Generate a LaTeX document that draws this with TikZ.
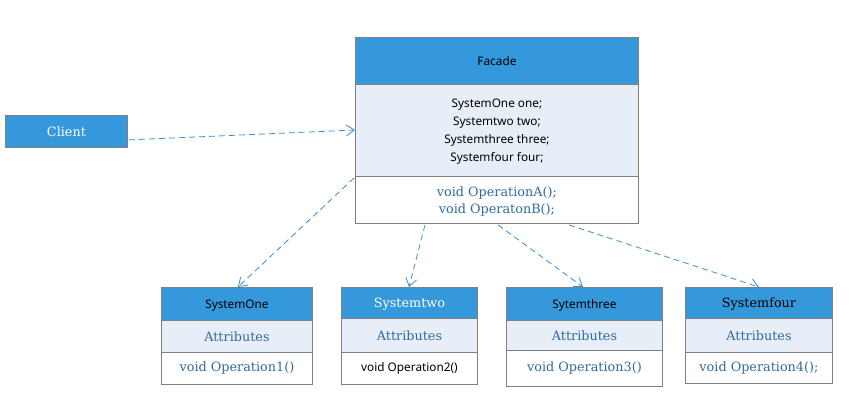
\documentclass[tikz,border=0pt]{standalone}
\usepackage{fontspec}
\setmainfont{DejaVu Serif}
\newfontfamily\sn{Noto Sans}
\usetikzlibrary{arrows.meta,calc}
\definecolor{hdrblue}{RGB}{52,152,219}
\definecolor{attrfill}{RGB}{232,238,248}
\definecolor{bordergray}{RGB}{128,128,128}
\definecolor{serblue}{RGB}{46,106,160}
\definecolor{linkblue}{RGB}{58,142,208}
\tikzset{
  box/.style={draw=bordergray, line width=0.9pt, rectangle, inner sep=0pt, anchor=north west, align=center},
  hdr/.style={box, fill=hdrblue},
  attr/.style={box, fill=attrfill},
  ops/.style={box, fill=white},
  lower/.style={text height=12pt, text depth=2pt},
  sertxt/.style={font=\fontsize{12.8}{17}\selectfont, text=serblue},
  santxt/.style={font=\sn\fontsize{11.8}{18}\selectfont, text=black},
  dep/.style={draw=linkblue, line width=0.8pt, dash pattern=on 6pt off 4pt, -{Straight Barb[length=8pt,width=11pt]}}
}
\begin{document}
\begin{tikzpicture}[x=1pt,y=-1pt]
\useasboundingbox (0,0) rectangle (854,417);
% Client
\node[hdr, minimum width=122pt, minimum height=32pt, sertxt, text=white] (client) at (5,115) {Client};
% Facade
\node[hdr, minimum width=283pt, minimum height=47pt, santxt] (fhdr) at (355,37) {Facade};
\node[attr, minimum width=283pt, minimum height=92pt, santxt, text depth=-4pt] (fattr) at (355,84) {SystemOne one;\\Systemtwo two;\\Systemthree three;\\Systemfour four;};
\node[ops, minimum width=283pt, minimum height=47pt, sertxt, text depth=-4pt] (fops) at (355,176) {void OperationA();\\void OperatonB();};
% SystemOne
\node[hdr, minimum width=151pt, minimum height=33pt, santxt, lower] (s1h) at (161,287) {SystemOne};
\node[attr, minimum width=151pt, minimum height=32pt, sertxt] (s1a) at (161,320) {Attributes};
\node[ops, minimum width=151pt, minimum height=32pt, sertxt] (s1o) at (161,352) {void Operation1()};
% Systemtwo
\node[hdr, minimum width=136pt, minimum height=31pt, sertxt, text=white, lower] (s2h) at (341,287) {Systemtwo};
\node[attr, minimum width=136pt, minimum height=34pt, sertxt] (s2a) at (341,318) {Attributes};
\node[ops, minimum width=136pt, minimum height=32pt, santxt] (s2o) at (341,352) {void Operation2()};
% Sytemthree
\node[hdr, minimum width=156pt, minimum height=33pt, santxt, lower] (s3h) at (506,287) {Sytemthree};
\node[attr, minimum width=156pt, minimum height=30pt, sertxt] (s3a) at (506,320) {Attributes};
\node[ops, minimum width=156pt, minimum height=36pt, sertxt] (s3o) at (506,350) {void Operation3()};
% Systemfour
\node[hdr, minimum width=147pt, minimum height=31pt, sertxt, text=black, lower] (s4h) at (685,287) {Systemfour};
\node[attr, minimum width=147pt, minimum height=34pt, sertxt] (s4a) at (685,318) {Attributes};
\node[ops, minimum width=147pt, minimum height=31pt, sertxt] (s4o) at (685,352) {void Operation4();};
% connectors
\draw[dep] ($(client.south east)+(1,-8)$) -- ($(fattr.north west)+(0,46)$);
\draw[dep] ($(fops.north west)+(-1,2)$) -- ($(s1h.north west)+(77,0)$);
\draw[dep] ($(fops.south west)+(70,1)$) -- ($(s2h.north west)+(68,0)$);
\draw[dep] ($(fops.south west)+(143,1)$) -- ($(s3h.north west)+(77,0)$);
\draw[dep] ($(fops.south west)+(214,1)$) -- ($(s4h.north west)+(74,0)$);
\end{tikzpicture}
\end{document}
